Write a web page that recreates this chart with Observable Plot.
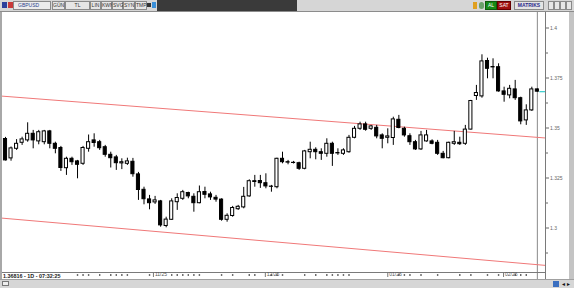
<!DOCTYPE html>
<html><head><meta charset="utf-8">
<script src="https://cdn.jsdelivr.net/npm/d3@7"></script>
<script src="https://cdn.jsdelivr.net/npm/@observablehq/plot@0.6"></script>
<style>
body{margin:0;width:574px;height:288px;overflow:hidden;background:#fff;position:relative;font-family:"Liberation Sans",Arial,sans-serif;}
.a{position:absolute;box-sizing:border-box;}
.btn{position:absolute;top:1px;height:9px;box-sizing:border-box;border:1px solid #8a8a8a;background:#e6e6e6;font-size:5px;line-height:7px;text-align:center;color:#333;}
</style></head>
<body>
<div class="a" style="left:0;top:0;width:574px;height:12px;background:#d6d6d6;border-bottom:1px solid #8c8c8c;"></div>
<div class="a" style="left:2px;top:2px;width:5px;height:6px;background:#2b3f9a;"></div>
<div class="a" style="left:8px;top:2px;width:5px;height:6px;background:#c83a3a;"></div>
<div class="btn" style="left:13px;width:38px;text-align:left;padding-left:4px;color:#2a3e8c;background:#ececec;">GBPUSD</div>
<div class="btn" style="left:52px;width:13px;">GÜN</div>
<div class="btn" style="left:65px;width:25px;">TL</div>
<div class="btn" style="left:90px;width:11px;">LIN</div>
<div class="btn" style="left:101px;width:11px;">KWN</div>
<div class="btn" style="left:112px;width:11px;">SVG</div>
<div class="btn" style="left:123px;width:12px;">SYN</div>
<div class="btn" style="left:135px;width:12px;">TMP</div>
<div class="a" style="left:147px;top:3px;width:4px;height:4px;background:#333;"></div>
<div class="a" style="left:152px;top:2px;width:4px;height:6px;background:#3a8fd8;"></div>
<div class="a" style="left:157px;top:0;width:140px;height:11px;background:#3a3a3a;"></div>
<div class="a" style="left:473px;top:2px;width:4px;height:7px;background:#e0a020;"></div>
<div class="a" style="left:479px;top:2px;width:5px;height:7px;background:#6aa06a;border-radius:3px;"></div>
<div class="btn" style="left:485px;width:12px;background:#178a17;color:#fff;border-color:#0d5a0d;">AL</div>
<div class="btn" style="left:497px;width:14px;background:#9e1010;color:#fff;border-color:#600;">SAT</div>
<div class="btn" style="left:514px;width:30px;background:#e4e4e4;color:#2a2a8a;font-weight:bold;">MATRIKS</div>
<div class="btn" style="left:548px;width:6px;"></div>
<div class="btn" style="left:554px;width:6px;"></div>
<div class="btn" style="left:560px;width:6px;"></div>
<div class="btn" style="left:566px;width:6px;"></div>
<div id="chart" class="a" style="left:0;top:12px;"></div>
<div class="a" style="left:0;top:12px;width:2px;height:267px;background:#a8a8a8;"></div>
<div class="a" style="left:569px;top:12px;width:5px;height:267px;background:#c4c4c4;"></div>
<div class="a" style="left:3px;top:272.5px;font-size:5.4px;font-weight:bold;color:#222;background:#fff;padding-right:2px;line-height:6px;">1.36816 - 1D - 07:32:25</div>
<div class="a" style="left:0;top:279px;width:574px;height:9px;background:#d6d6d6;border-top:1px solid #a0a0a0;"></div>
<div class="a" style="left:2px;top:281px;width:7px;height:5px;border:1px solid #777;background:#eee;"></div>
<div class="a" style="left:553px;top:281px;width:6px;height:6px;background:#3a6fc0;"></div>
<div class="a" style="left:561px;top:282px;font-size:5px;color:#111;line-height:5px;">◄►</div>
<script>
// OHLC (GBPUSD daily)
const open = [1.3445,1.3348,1.3396,1.3426,1.3438,1.3471,1.3433,1.3429,1.3483,1.3421,
1.3400,1.3299,1.3346,1.3333,1.3321,1.3396,1.3438,1.3429,1.3404,1.3366,
1.3353,1.3323,1.3321,1.3331,1.3268,1.3191,1.3143,1.3128,1.3133,1.3010,
1.3041,1.3129,1.3146,1.3175,1.3156,1.3124,1.3180,1.3168,1.3151,1.3142,
1.3041,1.3060,1.3094,1.3103,1.3158,1.3234,1.3235,1.3224,1.3207,1.3204,
1.3346,1.3329,1.3326,1.3324,1.3296,1.3379,1.3391,1.3379,1.3371,1.3421,
1.3375,1.3371,1.3379,1.3451,1.3496,1.3518,1.3496,1.3501,1.3463,1.3451,
1.3450,1.3541,1.3496,1.3459,1.3429,1.3393,1.3433,1.3433,1.3426,1.3371,
1.3349,1.3421,1.3426,1.3421,1.3492,1.3660,1.3658,1.3835,1.3805,1.3804,
1.3683,1.3663,1.3693,1.3649,1.3538,1.3588,1.3693];
const high = [1.3453,1.3405,1.3442,1.3454,1.3526,1.3488,1.3488,1.3488,1.3488,1.3429,
1.3408,1.3354,1.3354,1.3338,1.3408,1.3465,1.3471,1.3438,1.3413,1.3379,
1.3363,1.3346,1.3349,1.3348,1.3278,1.3204,1.3163,1.3158,1.3138,1.3054,
1.3146,1.3171,1.3188,1.3179,1.3171,1.3210,1.3204,1.3179,1.3163,1.3146,
1.3071,1.3108,1.3113,1.3203,1.3241,1.3263,1.3263,1.3271,1.3213,1.3349,
1.3379,1.3338,1.3333,1.3329,1.3388,1.3429,1.3401,1.3396,1.3446,1.3429,
1.3396,1.3396,1.3463,1.3508,1.3529,1.3529,1.3513,1.3513,1.3471,1.3496,
1.3554,1.3563,1.3504,1.3471,1.3438,1.3483,1.3488,1.3441,1.3438,1.3383,
1.3429,1.3483,1.3454,1.3513,1.3638,1.3713,1.3866,1.3849,1.3846,1.3821,
1.3704,1.3713,1.3738,1.3654,1.3616,1.3704,1.3695];
const low = [1.3335,1.3334,1.3388,1.3413,1.3429,1.3396,1.3416,1.3416,1.3396,1.3371,
1.3283,1.3263,1.3313,1.3246,1.3313,1.3379,1.3404,1.3388,1.3354,1.3300,
1.3288,1.3292,1.3313,1.3254,1.3138,1.3116,1.3091,1.3118,1.3004,1.3001,
1.3038,1.3088,1.3138,1.3146,1.3079,1.3121,1.3146,1.3138,1.3129,1.3034,
1.3029,1.3054,1.3088,1.3096,1.3154,1.3204,1.3198,1.3196,1.3179,1.3196,
1.3321,1.3316,1.3320,1.3288,1.3291,1.3346,1.3341,1.3338,1.3354,1.3308,
1.3363,1.3363,1.3374,1.3446,1.3488,1.3484,1.3488,1.3446,1.3396,1.3421,
1.3413,1.3496,1.3454,1.3413,1.3388,1.3388,1.3429,1.3416,1.3363,1.3346,
1.3346,1.3413,1.3413,1.3413,1.3490,1.3638,1.3649,1.3746,1.3746,1.3679,
1.3629,1.3646,1.3638,1.3516,1.3513,1.3583,1.3679];
const close = [1.3338,1.3398,1.3421,1.3443,1.3471,1.3438,1.3479,1.3483,1.3421,1.3396,
1.3300,1.3346,1.3329,1.3316,1.3400,1.3429,1.3425,1.3399,1.3366,1.3349,
1.3324,1.3329,1.3333,1.3269,1.3190,1.3144,1.3124,1.3138,1.3013,1.3042,
1.3133,1.3150,1.3179,1.3158,1.3124,1.3179,1.3166,1.3153,1.3142,1.3041,
1.3061,1.3100,1.3106,1.3156,1.3234,1.3230,1.3224,1.3208,1.3206,1.3346,
1.3329,1.3327,1.3325,1.3296,1.3383,1.3391,1.3379,1.3371,1.3421,1.3371,
1.3373,1.3388,1.3451,1.3496,1.3518,1.3491,1.3508,1.3458,1.3446,1.3458,
1.3543,1.3500,1.3463,1.3429,1.3393,1.3463,1.3463,1.3421,1.3371,1.3349,
1.3426,1.3429,1.3419,1.3492,1.3635,1.3675,1.3833,1.3796,1.3803,1.3683,
1.3666,1.3696,1.3649,1.3533,1.3588,1.3693,1.36816];

// channel lines (start/end of visible range)
const channelX = [-0.9025, 97.47];
const upperLine = [1.366, 1.345];
const lowerLine = [1.305, 1.2813];

// axes
const yTicks = [1.3, 1.325, 1.35, 1.375, 1.4];
const yTickLabels = ["1.3", "1.325", "1.35", "1.375", "1.4"];
const yMinorTicks = [1.2875, 1.3125, 1.3375, 1.3625, 1.3875];
const monthTicks = [26.7, 46.9, 69, 89.9];
const monthLabels = ["11/25", "12/25", "01/26", "02/26"];
const dayMarks = [13,14,15,17,19,20,21,22,26,30,31,32,33,34,35,39,41,44,45,48,49,50,54,56,58,59,60,61,62,71,72,73,75,78,82,84,87,89,92,93,94];

const bars = open.map((o, i) => ({i, o, h: high[i], l: low[i], c: close[i]}));
const up = channelX.map((x, k) => ({x, y: upperLine[k]}));
const lo = channelX.map((x, k) => ({x, y: lowerLine[k]}));
const last = bars[bars.length - 1];

const chart = Plot.plot({
  width: 574, height: 267,
  marginLeft: 0, marginRight: 29, marginTop: 0, marginBottom: 7,
  x: {domain: [-0.9025, 97.47], axis: null},
  y: {domain: [1.27775, 1.40775], axis: null},
  style: {background: "transparent", fontFamily: "Liberation Sans, Arial, sans-serif", overflow: "visible"},
  marks: [
    Plot.ruleX([last.i], {stroke: "#8a8a8a", insetBottom: -9}),
    Plot.line(up, {x: "x", y: "y", stroke: "#f07878", strokeWidth: 1}),
    Plot.line(lo, {x: "x", y: "y", stroke: "#f07878", strokeWidth: 1}),
    Plot.ruleX(bars, {x: "i", y1: "l", y2: "h", stroke: "#000", strokeWidth: 1}),
    Plot.rect(bars, {x1: d => d.i - 0.28, x2: d => d.i + 0.28, y1: "o", y2: "c",
      fill: d => d.c > d.o ? "#fff" : "#000", stroke: "#000", strokeWidth: 1}),
    Plot.ruleY([last.c], {x1: last.i + 0.45, x2: 97.47, stroke: "#33cccc", strokeWidth: 1.2}),
    Plot.ruleX([97.47], {stroke: "#7a7a7a", insetBottom: -9}),
    Plot.ruleY([1.27775], {stroke: "#7a7a7a"}),
    Plot.axisY({anchor: "right", ticks: yTicks, tickFormat: d => yTickLabels[yTicks.indexOf(d)],
      tickSize: 3, tickPadding: 1.5, fontSize: 5, color: "#666"}),
    Plot.axisY({anchor: "right", ticks: yMinorTicks, tickFormat: () => "", tickSize: 2, color: "#666"}),
    Plot.ruleX(monthTicks, {x: d => d, insetTop: 260, insetBottom: -5, stroke: "#777"}),
    Plot.text(monthTicks, {x: d => d, text: (d, i) => monthLabels[i], frameAnchor: "bottom", dy: 3.5, dx: 1.5,
      textAnchor: "start", fontSize: 5, fill: "#555"}),
    Plot.dot(dayMarks, {x: d => d, frameAnchor: "bottom", dy: 2.5, r: 0.8, fill: "#333", symbol: "square"})
  ]
});
document.getElementById("chart").appendChild(chart);
</script>
</body></html>
